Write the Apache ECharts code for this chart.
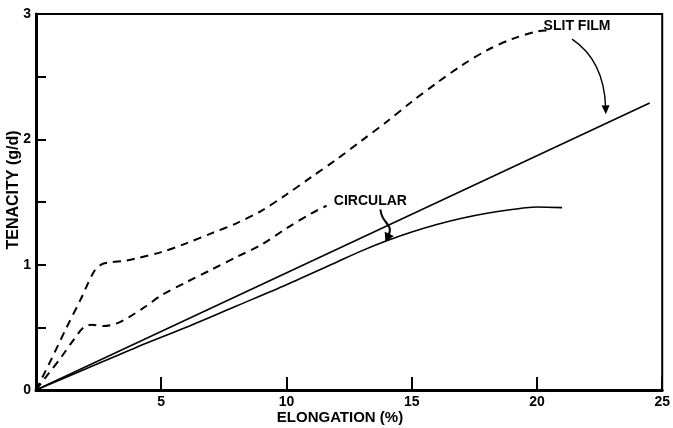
<!DOCTYPE html>
<html><head><meta charset="utf-8">
<script src="https://cdn.jsdelivr.net/npm/echarts@6/dist/echarts.min.js"></script>
<style>html,body{margin:0;padding:0;background:#fff}#c{width:673px;height:428px}</style>
</head><body><div id="c"></div>
<script>
// Data
var xTicks = [0, 5, 10, 15, 20, 25];
var yTicks = [0, 1, 2, 3];

var upperDashX = [0, 0.6, 1.2, 1.8, 2.3, 2.6, 3.0, 3.5, 4.0, 5, 6, 7, 8, 9, 10, 11, 12, 13, 14, 15, 16, 17, 18, 19, 20, 20.6];
var upperDashY = [0, 0.24, 0.49, 0.73, 0.94, 1.0, 1.02, 1.03, 1.05, 1.1, 1.17, 1.25, 1.33, 1.43, 1.56, 1.70, 1.84, 1.99, 2.14, 2.30, 2.45, 2.59, 2.71, 2.80, 2.86, 2.87];

var lowerDashX = [0, 0.5, 1.0, 1.5, 1.9, 2.2, 2.7, 3.2, 3.7, 4.4, 5, 6, 7, 8, 9, 10, 11, 11.6];
var lowerDashY = [0, 0.13, 0.26, 0.40, 0.50, 0.52, 0.51, 0.53, 0.58, 0.67, 0.755, 0.86, 0.96, 1.06, 1.16, 1.29, 1.41, 1.47];

var slitFilmX = [0, 24.5];
var slitFilmY = [0, 2.29];

var circularX = [0, 2, 4, 6, 8, 10, 12, 13, 14, 15, 16, 17, 18, 19, 20, 21];
var circularY = [0, 0.17, 0.34, 0.50, 0.67, 0.84, 1.02, 1.11, 1.19, 1.26, 1.32, 1.37, 1.41, 1.44, 1.46, 1.455];

var slitLabel = {text: 'SLIT FILM', x: 21.6, y: 2.9};
var slitArrow = {from: [21.4, 2.80], c1: [22.3, 2.68], c2: [22.7, 2.5], to: [22.75, 2.2]};
var circLabel = {text: 'CIRCULAR', x: 13.35, y: 1.51};
var circArrow = {from: [13.75, 1.44], c1: [13.8, 1.32], c2: [14.3, 1.33], to: [13.95, 1.18]};

function pairs(xs, ys){ return xs.map(function(x,i){return [x, ys[i]];}); }

var FONT = '"Liberation Sans", Arial, sans-serif';
var chart = echarts.init(document.getElementById('c'));
var option = {
  animation: false,
  backgroundColor: '#fff',
  grid: {left: 36, right: 10, top: 14, bottom: 38, show: true, borderColor: '#000', borderWidth: 2, backgroundColor: 'transparent'},
  xAxis: {
    type: 'value', min: 0, max: 25, interval: 5,
    axisLine: {show: true, lineStyle: {color: '#000', width: 3}},
    axisTick: {show: true, inside: true, length: 13, lineStyle: {color: '#000', width: 2}},
    splitLine: {show: false},
    axisLabel: {color: '#000', fontFamily: FONT, fontWeight: 'bold', fontSize: 14, margin: 5,
      formatter: function(v){ return v === 0 ? '' : String(v); }}
  },
  yAxis: {
    type: 'value', min: 0, max: 3, interval: 1,
    axisLine: {show: true, lineStyle: {color: '#000', width: 3}},
    axisTick: {show: true, inside: true, length: 10, lineStyle: {color: '#000', width: 2}},
    minorTick: {show: true, splitNumber: 2, length: 10, lineStyle: {color: '#000', width: 2}},
    splitLine: {show: false},
    axisLabel: {color: '#000', fontFamily: FONT, fontWeight: 'bold', fontSize: 14, margin: 5}
  },
  series: [
    {type: 'line', data: pairs(upperDashX, upperDashY), smooth: 0.3, symbol: 'none',
     lineStyle: {color: '#000', width: 2, type: [8, 6]}},
    {type: 'line', data: pairs(lowerDashX, lowerDashY), smooth: 0.3, symbol: 'none',
     lineStyle: {color: '#000', width: 2, type: [8, 6]}},
    {type: 'line', data: pairs(slitFilmX, slitFilmY), symbol: 'none',
     lineStyle: {color: '#000', width: 1.6}},
    {type: 'line', data: pairs(circularX, circularY), smooth: 0.3, symbol: 'none',
     lineStyle: {color: '#000', width: 1.6}}
  ]
};
chart.setOption(option);

function px(p){ return chart.convertToPixel({gridIndex: 0}, p); }
function arrowGraphics(a, w, hl, hw){
  var s = px(a.from), c1 = px(a.c1), c2 = px(a.c2), e = px(a.to);
  var dx = e[0] - c2[0], dy = e[1] - c2[1], L = Math.sqrt(dx*dx + dy*dy);
  dx /= L; dy /= L;
  var bx = e[0] - dx*hl, by = e[1] - dy*hl;
  return [
    {type: 'bezierCurve', shape: {x1: s[0], y1: s[1], cpx1: c1[0], cpy1: c1[1], cpx2: c2[0], cpy2: c2[1], x2: bx + dx*2, y2: by + dy*2},
     style: {stroke: '#000', lineWidth: w, fill: null}},
    {type: 'polygon', shape: {points: [[e[0], e[1]], [bx - dy*hw, by + dx*hw], [bx + dy*hw, by - dx*hw]]},
     style: {fill: '#000'}}
  ];
}
var p1 = px([slitLabel.x, slitLabel.y]);
var p2 = px([circLabel.x, circLabel.y]);
var g = [
  {type: 'text', x: p1[0], y: p1[1], style: {text: slitLabel.text, fill: '#000', font: 'bold 14px ' + FONT, textAlign: 'center', textVerticalAlign: 'middle'}},
  {type: 'text', x: p2[0], y: p2[1], style: {text: circLabel.text, fill: '#000', font: 'bold 14px ' + FONT, textAlign: 'center', textVerticalAlign: 'middle'}},
  {type: 'text', x: 14, y: 190, rotation: Math.PI / 2, style: {text: 'TENACITY (g/d)', fill: '#000', font: 'bold 16px ' + FONT, textAlign: 'center', textVerticalAlign: 'middle'}},
  {type: 'text', x: 340, y: 418, style: {text: 'ELONGATION (%)', fill: '#000', font: 'bold 15px ' + FONT, textAlign: 'center', textVerticalAlign: 'middle'}}
].concat(arrowGraphics(slitArrow, 1.4, 9, 4)).concat(arrowGraphics(circArrow, 2, 9, 5));
chart.setOption({graphic: g});
</script></body></html>
